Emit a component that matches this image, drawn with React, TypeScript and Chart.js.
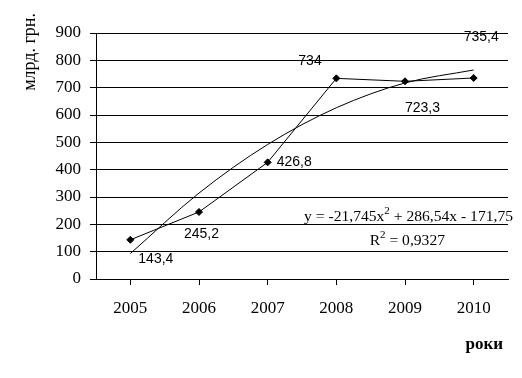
import React, { useEffect, useRef } from "react";
import { Chart, registerables } from "chart.js";

Chart.register(...registerables);

// ---- data ----
const years: string[] = ["2005", "2006", "2007", "2008", "2009", "2010"];
const values: number[] = [143.4, 245.2, 426.8, 734, 723.3, 735.4];
const valueLabels: string[] = ["143,4", "245,2", "426,8", "734", "723,3", "735,4"];
const trendValues: number[] = [93.0, 314.4, 492.2, 626.5, 717.3, 764.7];
const yMin = 0;
const yMax = 900;
const yStep = 100;
const yAxisTitle = "млрд. грн.";
const xAxisTitle = "роки";
const equationParts: [string, boolean][] = [
  ["y = -21,745x", false],
  ["2", true],
  [" + 286,54x - 171,75", false],
];
const rSquaredParts: [string, boolean][] = [
  ["R", false],
  ["2", true],
  [" = 0,9327", false],
];

// ---- styling (label offsets relative to the point: left edge dx, center dy) ----
const labelOffsets: [number, number][] = [
  [8, 19],
  [-15, 22],
  [9, 0],
  [-38, -17],
  [0, 27],
  [-10, -41],
];
const SERIF = "'Liberation Serif', 'Times New Roman', serif";
const SANS = "'Liberation Sans', Arial, sans-serif";

function drawParts(
  ctx: CanvasRenderingContext2D,
  parts: [string, boolean][],
  rightX: number,
  centerY: number,
  size: number
) {
  const normal = `${size}px ${SERIF}`;
  const sup = `${Math.round(size * 0.72)}px ${SERIF}`;
  let total = 0;
  const widths = parts.map(([t, s]) => {
    ctx.font = s ? sup : normal;
    const w = ctx.measureText(t).width;
    total += w;
    return w;
  });
  let x = rightX - total;
  ctx.textAlign = "left";
  ctx.textBaseline = "middle";
  parts.forEach(([t, s], i) => {
    ctx.font = s ? sup : normal;
    ctx.fillText(t, x, s ? centerY - size * 0.35 : centerY);
    x += widths[i];
  });
}

const textPlugin = {
  id: "textPlugin",
  afterDatasetsDraw(chart: any) {
    const ctx: CanvasRenderingContext2D = chart.ctx;
    const xs = chart.scales.x;
    const ys = chart.scales.y;
    ctx.save();
    ctx.fillStyle = "#000";
    // value labels
    ctx.font = `14px ${SANS}`;
    ctx.textAlign = "left";
    ctx.textBaseline = "middle";
    values.forEach((v, i) => {
      const px = xs.getPixelForValue(i);
      const py = ys.getPixelForValue(v);
      const [dx, dy] = labelOffsets[i];
      ctx.fillText(valueLabels[i], px + dx, py + dy);
    });
    // trendline equation
    drawParts(ctx, equationParts, 513, 217, 15.6);
    drawParts(ctx, rSquaredParts, 445, 241, 15.6);
    // x axis title
    ctx.font = `bold 17px ${SERIF}`;
    ctx.textAlign = "right";
    ctx.textBaseline = "middle";
    ctx.fillText(xAxisTitle, 503, 345);
    // y axis title
    ctx.save();
    ctx.translate(30, 13);
    ctx.rotate(-Math.PI / 2);
    ctx.font = `18px ${SERIF}`;
    ctx.textAlign = "right";
    ctx.textBaseline = "middle";
    ctx.fillText(yAxisTitle, 0, 0);
    ctx.restore();
    ctx.restore();
  },
};

export default function App() {
  const canvasRef = useRef<HTMLCanvasElement | null>(null);

  useEffect(() => {
    document.body.style.margin = "0";
    const canvas = canvasRef.current;
    if (!canvas) return;
    const chart = new Chart(canvas, {
      type: "line",
      data: {
        labels: years,
        datasets: [
          {
            label: "values",
            data: values,
            borderColor: "#000",
            backgroundColor: "#000",
            borderWidth: 1,
            pointStyle: "rectRot",
            pointRadius: 3.5,
            pointBackgroundColor: "#000",
            pointBorderColor: "#000",
            tension: 0,
          },
          {
            label: "trend",
            data: trendValues,
            borderColor: "#000",
            borderWidth: 1,
            pointRadius: 0,
            cubicInterpolationMode: "monotone",
          },
        ],
      },
      options: {
        animation: false,
        responsive: false,
        devicePixelRatio: 1,
        layout: { padding: { top: 33, right: 14, bottom: 59, left: 0 } },
        plugins: {
          legend: { display: false },
          tooltip: { enabled: false },
          title: { display: false },
        },
        scales: {
          x: {
            offset: true,
            grid: {
              display: true,
              drawOnChartArea: false,
              drawTicks: true,
              tickLength: 6,
              color: "#000",
              lineWidth: 1,
            },
            border: { display: true, color: "#000", width: 1 },
            ticks: {
              color: "#000",
              font: { family: SERIF, size: 17 },
              padding: 13,
              maxRotation: 0,
            },
            afterFit: (s: any) => {
              s.height = 40;
            },
          },
          y: {
            min: yMin,
            max: yMax,
            ticks: {
              stepSize: yStep,
              color: "#000",
              font: { family: SERIF, size: 17 },
              padding: 9,
            },
            grid: {
              color: "#000",
              lineWidth: 1,
              drawTicks: true,
              tickLength: 6,
            },
            border: { display: true, color: "#000", width: 1 },
            afterFit: (s: any) => {
              s.width = 96;
            },
          },
        },
      },
      plugins: [textPlugin],
    });
    return () => chart.destroy();
  }, []);

  return (
    <div style={{ width: 522, height: 378, background: "#fff" }}>
      <canvas ref={canvasRef} width={522} height={378} />
    </div>
  );
}
